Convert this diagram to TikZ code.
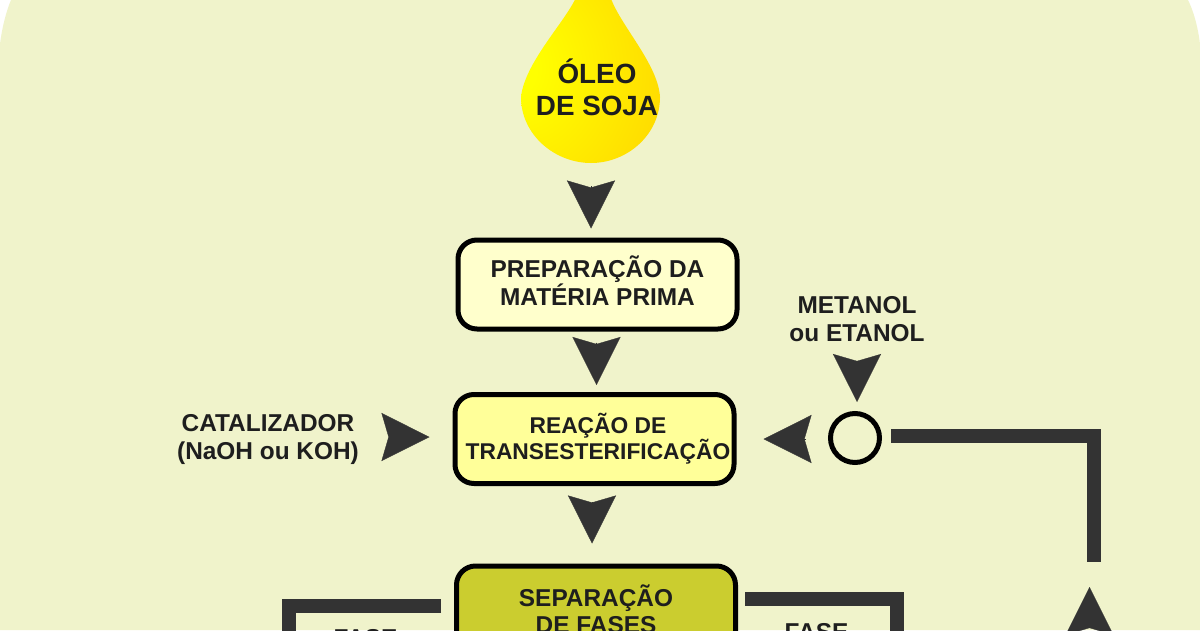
\documentclass[tikz,border=0pt]{standalone}
\usepackage{fontspec}
\setmainfont{Liberation Sans}
\usepackage{xcolor}
\usetikzlibrary{arrows.meta,positioning}
\definecolor{fundo}{HTML}{F0F3CB}
\definecolor{cinza}{HTML}{333333}
\definecolor{texto}{HTML}{1E1E1E}
\definecolor{claro}{HTML}{FFFFCC}
\definecolor{medio}{HTML}{FFFF99}
\definecolor{escuro}{HTML}{CBCD2F}
\definecolor{ouro}{HTML}{FFD800}
\pgfdeclareradialshading{gota}{\pgfpoint{-30bp}{3bp}}{
  color(0bp)=(yellow); color(8bp)=(yellow); color(48bp)=(ouro); color(100bp)=(ouro)}

\begin{document}
\begin{tikzpicture}[
  x=1pt, y=-1pt,
  node distance=154.5pt,
  etapa/.style={rectangle, draw=black, line width=5pt, rounded corners=19pt, minimum width=279pt, minimum height=89pt, text=texto, align=center, font=\bfseries\fontsize{24.4}{28}\selectfont},
  rotulo/.style={inner sep=0pt, text=texto, align=center, font=\bfseries\fontsize{24.4}{28}\selectfont},
  seta/.style={-{Stealth[length=48pt, width=48pt, inset=7pt]}, draw=cinza, fill=cinza, line width=0.3pt},
  duto/.style={draw=cinza, line width=14pt, line join=miter},
]
  \useasboundingbox (0,0) rectangle (1200,630);
  \clip (0,0) rectangle (1200,630);
  \fill[white] (0,0) rectangle (1200,630);
  \fill[fundo] (11,0) -- (1188,0) .. controls (1194,12) and (1198,28) .. (1200,44) -- (1200,630) -- (0,630) -- (0,44) .. controls (2,28) and (6,12) .. cycle;

  \shade[shading=gota] (578,-8) .. controls (572,15) and (525,60) .. (521,97) .. controls (521,135) and (555,163) .. (591,163) .. controls (627,163) and (660,135) .. (660,97) .. controls (658,62) and (615,20) .. (609,-8) -- cycle;
  \coordinate (gota) at (591,163);
  \node[rotulo, font=\bfseries\fontsize{27.8}{32}\selectfont] (oleo) at (597,87) {ÓLEO\\DE SOJA};

  \node[etapa, fill=claro, text depth=7pt] (prep) at (597.5,284.5) {PREPARAÇÃO DA\\MATÉRIA PRIMA};
  \node[etapa, fill=medio, below of=prep, xshift=-3pt, font=\bfseries\fontsize{22.8}{26}\selectfont] (reacao) {\hspace*{7pt}REAÇÃO DE\\\hspace*{7pt}TRANSESTERIFICAÇÃO};
  \node[etapa, fill=escuro, below of=reacao, xshift=1.5pt, yshift=-17pt, text depth=3pt, font=\bfseries\fontsize{24.4}{27}\selectfont] (separacao) {SEPARAÇÃO\\DE FASES};

  \node[rotulo] (catalizador) at (268,440) {CATALIZADOR\\(NaOH ou KOH)};
  \node[rotulo] (metanol) at (857,319.5) {METANOL\\ou ETANOL};
  \node[circle, draw=black, line width=5pt, minimum size=49pt, inner sep=0pt, right of=reacao, xshift=106pt, yshift=1pt] (mistura) {};

  \node[rotulo] (faseesq) at (365.5,638) {FASE};
  \node[rotulo] (fasedir) at (816.5,632) {FASE};

  \coordinate (retorno) at (1093.5,562);
  \coordinate (descesq) at (288.5,660);
  \coordinate (descdir) at (896.5,660);
  \coordinate (baseret) at (1089.5,627);
  \coordinate (topoer) at (1089.5,587);

  \draw[seta, shorten <=23pt, shorten >=9pt] (gota) -- (gota |- prep.north);
  \draw[seta, shorten <=11pt, shorten >=7pt] ([xshift=-1pt]prep.south) -- ([xshift=-1pt]prep.south |- reacao.north);
  \draw[seta, shorten <=16pt, shorten >=20pt] ([xshift=-2.5pt]reacao.south) -- ([xshift=-2.5pt]reacao.south |- separacao.north);
  \draw[seta, shorten <=30pt, shorten >=23pt] ([yshift=3pt]catalizador.east) -- ([yshift=3pt]catalizador.east -| reacao.west);
  \draw[seta, shorten <=22pt, shorten >=27pt] ([yshift=-1pt]mistura.west) -- ([yshift=-1pt]mistura.west -| reacao.east);
  \draw[seta, shorten <=19pt, shorten >=9pt] (metanol.south) -- (metanol.south |- mistura.north);
  \draw[seta] (baseret) -- (topoer);

  \draw[duto] ([xshift=9pt, yshift=2pt]mistura.east) -| (retorno);
  \draw[duto] ([xshift=-13pt, yshift=5pt]separacao.west) -| (descesq);
  \draw[duto] ([xshift=7pt, yshift=11.5pt]separacao.east) -| (descdir);
\end{tikzpicture}
\end{document}
